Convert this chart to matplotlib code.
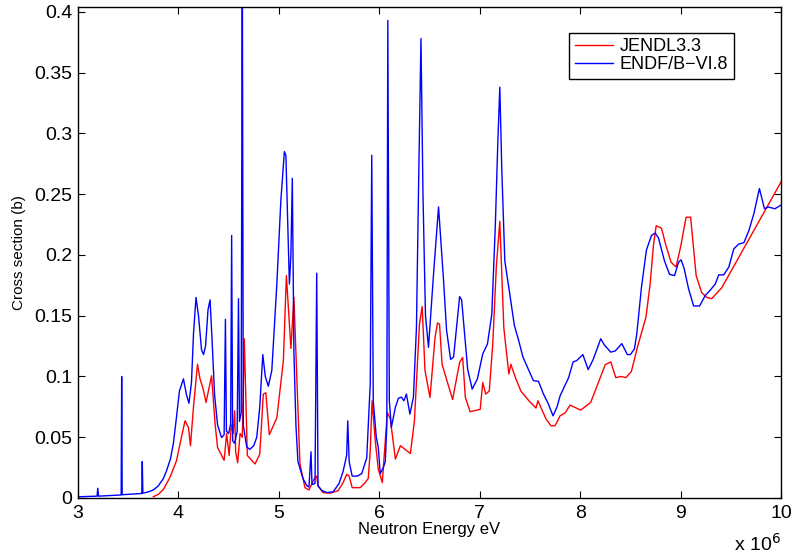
import numpy as np
import matplotlib
matplotlib.use("Agg")
import matplotlib.pyplot as plt

plt.rcParams['font.family'] = ['Liberation Sans', 'DejaVu Sans']

# ENDF/B-VI.8 (energy in MeV, cross section in b)
endf_e = [3.00, 3.19, 3.197, 3.205, 3.43, 3.435, 3.44, 3.635, 3.64, 3.646, 3.70, 3.75, 3.80,
          3.85, 3.88, 3.92, 3.95, 3.98, 4.01, 4.05, 4.08, 4.105, 4.13, 4.15, 4.175, 4.20, 4.23,
          4.25, 4.27, 4.295, 4.315, 4.335, 4.36, 4.39, 4.43, 4.455, 4.468, 4.478, 4.50, 4.52,
          4.53, 4.54, 4.56, 4.585, 4.598, 4.608, 4.625, 4.636, 4.646, 4.68, 4.71, 4.75, 4.78,
          4.81, 4.84, 4.865, 4.895, 4.93, 4.98, 5.02, 5.055, 5.07, 5.09, 5.105, 5.12, 5.134,
          5.15, 5.17, 5.19, 5.24, 5.28, 5.30, 5.32, 5.33, 5.36, 5.377, 5.39, 5.43, 5.48, 5.54,
          5.60, 5.64, 5.675, 5.686, 5.70, 5.73, 5.78, 5.825, 5.875, 5.91, 5.925, 5.94, 5.97,
          5.99, 6.01, 6.04, 6.06, 6.075, 6.085, 6.10, 6.12, 6.16, 6.19, 6.22, 6.245, 6.27,
          6.305, 6.34, 6.37, 6.39, 6.415, 6.435, 6.46, 6.49, 6.54, 6.59, 6.64, 6.67, 6.71,
          6.74, 6.80, 6.82, 6.88, 6.925, 6.977, 7.03, 7.077, 7.12, 7.155, 7.18, 7.20, 7.22,
          7.25, 7.29, 7.345, 7.39, 7.43, 7.535, 7.585, 7.635, 7.68, 7.73, 7.77, 7.80, 7.84,
          7.885, 7.93, 7.965, 8.027, 8.08, 8.13, 8.205, 8.24, 8.305, 8.35, 8.415, 8.47, 8.50,
          8.54, 8.564, 8.61, 8.66, 8.71, 8.747, 8.78, 8.84, 8.89, 8.94, 8.98, 9.005, 9.035,
          9.08, 9.13, 9.19, 9.245, 9.295, 9.345, 9.38, 9.43, 9.48, 9.53, 9.58, 9.63, 9.68,
          9.73, 9.785, 9.835, 9.875, 9.94, 10.0]
endf_xs = [0.001, 0.0015, 0.008, 0.0015, 0.0025, 0.1, 0.0027, 0.0037, 0.03, 0.004, 0.005,
           0.0066, 0.01, 0.016, 0.022, 0.032, 0.045, 0.066, 0.088, 0.098, 0.085, 0.078, 0.095,
           0.135, 0.165, 0.15, 0.122, 0.118, 0.125, 0.155, 0.163, 0.13, 0.085, 0.06, 0.0497,
           0.052, 0.147, 0.055, 0.053, 0.061, 0.216, 0.047, 0.045, 0.055, 0.164, 0.063, 0.07,
           0.45, 0.06, 0.042, 0.040, 0.043, 0.050, 0.075, 0.118, 0.1, 0.092, 0.105, 0.176,
           0.245, 0.285, 0.282, 0.22, 0.176, 0.2, 0.263, 0.12, 0.06, 0.03, 0.016, 0.01, 0.009,
           0.038, 0.011, 0.012, 0.185, 0.01, 0.006, 0.0045, 0.005, 0.012, 0.022, 0.035, 0.0635,
           0.03, 0.018, 0.018, 0.02, 0.033, 0.094, 0.282, 0.08, 0.05, 0.0415, 0.02, 0.025,
           0.03, 0.06, 0.393, 0.08, 0.058, 0.0745, 0.082, 0.083, 0.08, 0.0855, 0.069, 0.083,
           0.14, 0.25, 0.378, 0.25, 0.15, 0.124, 0.184, 0.2395, 0.179, 0.138, 0.114, 0.116,
           0.1657, 0.163, 0.106, 0.0896, 0.098, 0.1185, 0.1267, 0.151, 0.223, 0.292, 0.338,
           0.27, 0.195, 0.173, 0.142, 0.129, 0.116, 0.0965, 0.096, 0.0855, 0.078, 0.0676, 0.075,
           0.084, 0.091, 0.099, 0.112, 0.113, 0.118, 0.1056, 0.114, 0.131, 0.126, 0.12, 0.121,
           0.127, 0.118, 0.118, 0.1226, 0.135, 0.173, 0.204, 0.216, 0.218, 0.214, 0.195, 0.184,
           0.183, 0.194, 0.196, 0.189, 0.172, 0.158, 0.158, 0.1666, 0.171, 0.176, 0.1836,
           0.1836, 0.19, 0.205, 0.209, 0.21, 0.22, 0.234, 0.2546, 0.238, 0.2394, 0.238, 0.241]

# JENDL3.3
jendl_e = [3.75, 3.80, 3.85, 3.916, 3.98, 4.03, 4.066, 4.10, 4.12, 4.15, 4.19, 4.215, 4.245,
           4.275, 4.33, 4.365, 4.39, 4.455, 4.48, 4.505, 4.527, 4.545, 4.56, 4.57, 4.59, 4.614,
           4.636, 4.656, 4.686, 4.763, 4.81, 4.845, 4.87, 4.905, 4.98, 5.045, 5.075, 5.12,
           5.15, 5.21, 5.26, 5.30, 5.35, 5.377, 5.39, 5.44, 5.51, 5.59, 5.64, 5.676, 5.70,
           5.73, 5.81, 5.86, 5.89, 5.91, 5.928, 5.96, 5.99, 6.03, 6.08, 6.11, 6.16, 6.21, 6.31,
           6.35, 6.40, 6.427, 6.455, 6.505, 6.555, 6.58, 6.60, 6.625, 6.73, 6.80, 6.83, 6.857,
           6.905, 7.005, 7.03, 7.06, 7.095, 7.13, 7.165, 7.20, 7.24, 7.29, 7.31, 7.36, 7.41,
           7.49, 7.56, 7.58, 7.66, 7.71, 7.75, 7.80, 7.85, 7.90, 8.005, 8.105, 8.20, 8.25,
           8.305, 8.355, 8.405, 8.455, 8.51, 8.57, 8.655, 8.697, 8.73, 8.757, 8.81, 8.85,
           8.905, 8.955, 9.0, 9.055, 9.10, 9.155, 9.21, 9.26, 9.31, 9.41, 10.0]
jendl_xs = [0.001, 0.003, 0.007, 0.017, 0.0305, 0.05, 0.0635, 0.058, 0.043, 0.075, 0.11,
            0.098, 0.09, 0.0786, 0.1006, 0.061, 0.0415, 0.031, 0.053, 0.035, 0.06, 0.053,
            0.0717, 0.038, 0.029, 0.053, 0.05, 0.131, 0.035, 0.028, 0.036, 0.0855, 0.0866,
            0.052, 0.066, 0.113, 0.183, 0.123, 0.165, 0.028, 0.0085, 0.0066, 0.0154, 0.018,
            0.01, 0.0044, 0.004, 0.006, 0.0127, 0.0195, 0.018, 0.0085, 0.0085, 0.0127, 0.016,
            0.0388, 0.08, 0.047, 0.0237, 0.0127, 0.0704, 0.065, 0.032, 0.043, 0.0366, 0.0635,
            0.143, 0.1575, 0.105, 0.0827, 0.132, 0.144, 0.143, 0.11, 0.081, 0.1116, 0.1157,
            0.0827, 0.071, 0.073, 0.095, 0.0855, 0.088, 0.127, 0.19, 0.2276, 0.14, 0.102, 0.11,
            0.098, 0.088, 0.08, 0.074, 0.08, 0.065, 0.0594, 0.0594, 0.0676, 0.07, 0.0764,
            0.0723, 0.0786, 0.099, 0.1097, 0.112, 0.099, 0.1, 0.099, 0.104, 0.124, 0.1487,
            0.176, 0.208, 0.224, 0.222, 0.209, 0.194, 0.19, 0.2065, 0.231, 0.231, 0.183, 0.169,
            0.165, 0.164, 0.173, 0.26]

fig = plt.figure(figsize=(7.95, 5.54), dpi=100)
ax = fig.add_axes([0.0981, 0.1011, 0.8843, 0.8863])

ax.plot(np.array(jendl_e) * 1e6, jendl_xs, color='red', lw=1.0, label='JENDL3.3')
ax.plot(np.array(endf_e) * 1e6, endf_xs, color='blue', lw=1.0, label='ENDF/B\u2212VI.8')

ax.set_xlim(3e6, 10e6)
ax.set_ylim(0, 0.404)
ax.set_xticks(np.arange(3, 11) * 1e6)
ax.set_xticklabels([str(i) for i in range(3, 11)])
ax.set_yticks(np.arange(0, 0.41, 0.05))
ax.set_yticklabels(['0', '0.05', '0.1', '0.15', '0.2', '0.25', '0.3', '0.35', '0.4'])
ax.tick_params(direction='in', top=True, right=True, length=5, width=0.8, labelsize=14)
ax.tick_params(axis='x', pad=5)
ax.tick_params(axis='y', pad=4)
for s in ax.spines.values():
    s.set_linewidth(1.0)

ax.set_xlabel('Neutron Energy eV', fontsize=12, labelpad=0)
ax.set_ylabel('Cross section (b)', fontsize=11, labelpad=6)
ax.text(1.0, -0.093, r'x 10$^{6}$', transform=ax.transAxes, ha='right', va='center',
        fontsize=14)

leg = ax.legend(loc='upper right', bbox_to_anchor=(0.933, 0.947), borderaxespad=0,
                fontsize=13, handlelength=2.1, handletextpad=0.4, labelspacing=0.05,
                borderpad=0.3, fancybox=False, framealpha=1)
leg.get_frame().set_edgecolor('black')
leg.get_frame().set_linewidth(1.0)

fig.savefig('out.png', dpi=100)
